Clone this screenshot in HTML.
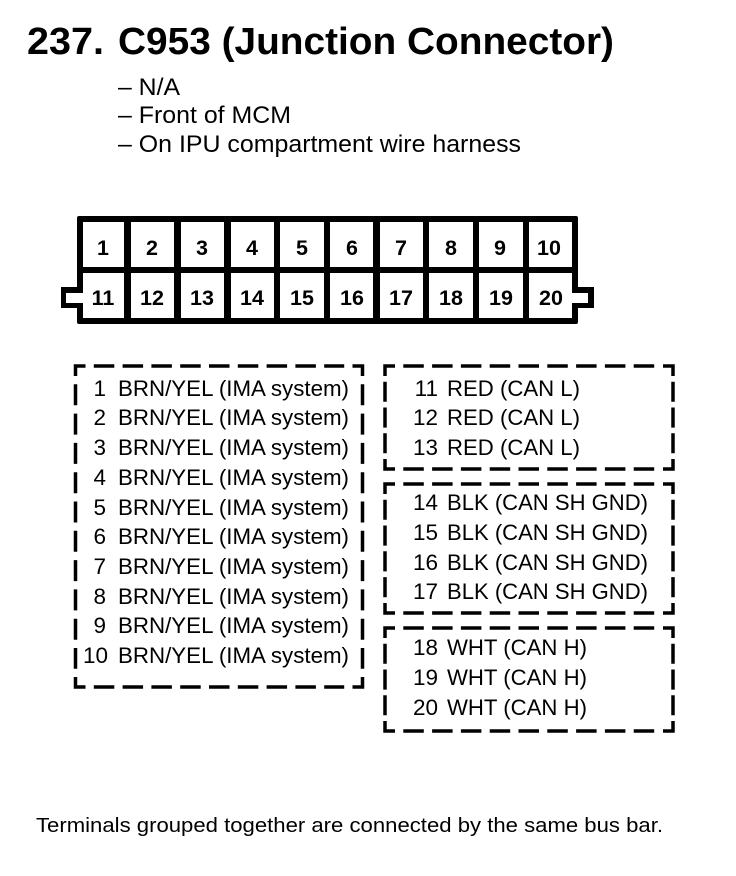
<!DOCTYPE html>
<html><head><meta charset="utf-8"><style>
html,body{margin:0;padding:0;background:#fff}
svg{display:block}
text{font-family:"Liberation Sans",Arial,sans-serif;fill:#000}
.t{font-size:38px;font-weight:bold}
.s{font-size:24px}
.n{font-size:21.5px;font-weight:bold;text-anchor:middle}
.l{font-size:22.5px}
.r{font-size:22.5px;text-anchor:end}
.c,.h,.v1,.v2,.v3{fill:none;stroke:#000;stroke-width:3.5}
.h{stroke-dasharray:20.5 8.3}
.v1{stroke-dasharray:21 8.3}
.v2{stroke-dasharray:20.1 5.7}
</style></head><body>
<svg width="736" height="876" viewBox="0 0 736 876" xmlns="http://www.w3.org/2000/svg">
<text class="t" x="27" y="54" textLength="77" lengthAdjust="spacingAndGlyphs">237.</text>
<text class="t" x="118" y="54" textLength="496" lengthAdjust="spacingAndGlyphs">C953 (Junction Connector)</text>
<text class="s" x="118" y="95" textLength="62" lengthAdjust="spacingAndGlyphs">– N/A</text>
<text class="s" x="118" y="123" textLength="173" lengthAdjust="spacingAndGlyphs">– Front of MCM</text>
<text class="s" x="118" y="152" textLength="403" lengthAdjust="spacingAndGlyphs">– On IPU compartment wire harness</text>

<rect x="77" y="216" width="501" height="108" rx="2" fill="#000"/>
<rect x="61" y="287" width="22" height="21" fill="#000"/>
<rect x="572" y="287" width="22" height="21" fill="#000"/>
<g fill="#fff">
<rect x="83" y="222" width="41" height="45"/><rect x="131" y="222" width="43" height="45"/><rect x="181" y="222" width="43" height="45"/><rect x="231" y="222" width="43" height="45"/><rect x="280" y="222" width="44" height="45"/><rect x="330" y="222" width="43" height="45"/><rect x="380" y="222" width="43" height="45"/><rect x="429" y="222" width="44" height="45"/><rect x="479" y="222" width="44" height="45"/><rect x="529" y="222" width="43" height="45"/>
<rect x="83" y="273" width="41" height="45"/><rect x="131" y="273" width="43" height="45"/><rect x="181" y="273" width="43" height="45"/><rect x="231" y="273" width="43" height="45"/><rect x="280" y="273" width="44" height="45"/><rect x="330" y="273" width="43" height="45"/><rect x="380" y="273" width="43" height="45"/><rect x="429" y="273" width="44" height="45"/><rect x="479" y="273" width="44" height="45"/><rect x="529" y="273" width="43" height="45"/>
<rect x="66" y="293" width="18" height="10"/><rect x="571" y="293" width="17" height="10"/>
</g>
<text class="n" x="103" y="255">1</text><text class="n" x="152" y="255">2</text><text class="n" x="202" y="255">3</text><text class="n" x="252" y="255">4</text><text class="n" x="302" y="255">5</text><text class="n" x="352" y="255">6</text><text class="n" x="401" y="255">7</text><text class="n" x="451" y="255">8</text><text class="n" x="500" y="255">9</text><text class="n" x="549" y="255">10</text>
<text class="n" x="103" y="305">11</text><text class="n" x="152" y="305">12</text><text class="n" x="202" y="305">13</text><text class="n" x="252" y="305">14</text><text class="n" x="302" y="305">15</text><text class="n" x="352" y="305">16</text><text class="n" x="401" y="305">17</text><text class="n" x="451" y="305">18</text><text class="n" x="501" y="305">19</text><text class="n" x="551" y="305">20</text>

<!-- box 1 -->
<path class="c" d="M75.5 376V366H85.5M352.5 366H362.5V376M362.5 677V687H352.5M85.5 687H75.5V677"/>
<path class="h" d="M93.8 366H344.2M93.8 687H344.2"/>
<path class="v1" d="M75.5 384.3V668.7M362.5 384.3V668.7"/>
<!-- box 2 -->
<path class="c" d="M385 376V366H395M663 366H673V376M673 459V469H663M395 469H385V459"/>
<path class="h" d="M403.3 366H654.7M403.3 469H654.7"/>
<path class="v2" d="M385 381.7V453.3M673 381.7V453.3"/>
<!-- box 3 -->
<path class="c" d="M385 494V484H395M663 484H673V494M673 603V613H663M395 613H385V603"/>
<path class="h" d="M403.3 484H654.7M403.3 613H654.7"/>
<path class="v2" d="M385 499.7V597.3M673 499.7V597.3"/>
<!-- box 4 -->
<path class="c" d="M385 638V628H395M663 628H673V638M673 721V731H663M395 731H385V721"/>
<path class="h" d="M403.3 628H654.7M403.3 731H654.7"/>
<path class="v2" d="M385 643.7V715.3M673 643.7V715.3"/>

<text class="r" x="106" y="396">1</text><text class="l" x="118" y="396" textLength="231" lengthAdjust="spacingAndGlyphs">BRN/YEL (IMA system)</text>
<text class="r" x="106" y="425">2</text><text class="l" x="118" y="425" textLength="231" lengthAdjust="spacingAndGlyphs">BRN/YEL (IMA system)</text>
<text class="r" x="106" y="455">3</text><text class="l" x="118" y="455" textLength="231" lengthAdjust="spacingAndGlyphs">BRN/YEL (IMA system)</text>
<text class="r" x="106" y="485">4</text><text class="l" x="118" y="485" textLength="231" lengthAdjust="spacingAndGlyphs">BRN/YEL (IMA system)</text>
<text class="r" x="106" y="515">5</text><text class="l" x="118" y="515" textLength="231" lengthAdjust="spacingAndGlyphs">BRN/YEL (IMA system)</text>
<text class="r" x="106" y="544">6</text><text class="l" x="118" y="544" textLength="231" lengthAdjust="spacingAndGlyphs">BRN/YEL (IMA system)</text>
<text class="r" x="106" y="574">7</text><text class="l" x="118" y="574" textLength="231" lengthAdjust="spacingAndGlyphs">BRN/YEL (IMA system)</text>
<text class="r" x="106" y="604">8</text><text class="l" x="118" y="604" textLength="231" lengthAdjust="spacingAndGlyphs">BRN/YEL (IMA system)</text>
<text class="r" x="106" y="633">9</text><text class="l" x="118" y="633" textLength="231" lengthAdjust="spacingAndGlyphs">BRN/YEL (IMA system)</text>
<text class="r" x="108" y="663">10</text><text class="l" x="118" y="663" textLength="231" lengthAdjust="spacingAndGlyphs">BRN/YEL (IMA system)</text>

<text class="r" x="438" y="396">11</text><text class="l" x="447" y="396" textLength="133" lengthAdjust="spacingAndGlyphs">RED (CAN L)</text>
<text class="r" x="438" y="425">12</text><text class="l" x="447" y="425" textLength="133" lengthAdjust="spacingAndGlyphs">RED (CAN L)</text>
<text class="r" x="438" y="455">13</text><text class="l" x="447" y="455" textLength="133" lengthAdjust="spacingAndGlyphs">RED (CAN L)</text>

<text class="r" x="438" y="510">14</text><text class="l" x="447" y="510" textLength="201" lengthAdjust="spacingAndGlyphs">BLK (CAN SH GND)</text>
<text class="r" x="438" y="540">15</text><text class="l" x="447" y="540" textLength="201" lengthAdjust="spacingAndGlyphs">BLK (CAN SH GND)</text>
<text class="r" x="438" y="570">16</text><text class="l" x="447" y="570" textLength="201" lengthAdjust="spacingAndGlyphs">BLK (CAN SH GND)</text>
<text class="r" x="438" y="599">17</text><text class="l" x="447" y="599" textLength="201" lengthAdjust="spacingAndGlyphs">BLK (CAN SH GND)</text>

<text class="r" x="438" y="655">18</text><text class="l" x="447" y="655" textLength="140" lengthAdjust="spacingAndGlyphs">WHT (CAN H)</text>
<text class="r" x="438" y="685">19</text><text class="l" x="447" y="685" textLength="140" lengthAdjust="spacingAndGlyphs">WHT (CAN H)</text>
<text class="r" x="438" y="715">20</text><text class="l" x="447" y="715" textLength="140" lengthAdjust="spacingAndGlyphs">WHT (CAN H)</text>

<text x="36" y="832" font-size="20.5" textLength="627" lengthAdjust="spacingAndGlyphs">Terminals grouped together are connected by the same bus bar.</text>
</svg>
</body></html>
